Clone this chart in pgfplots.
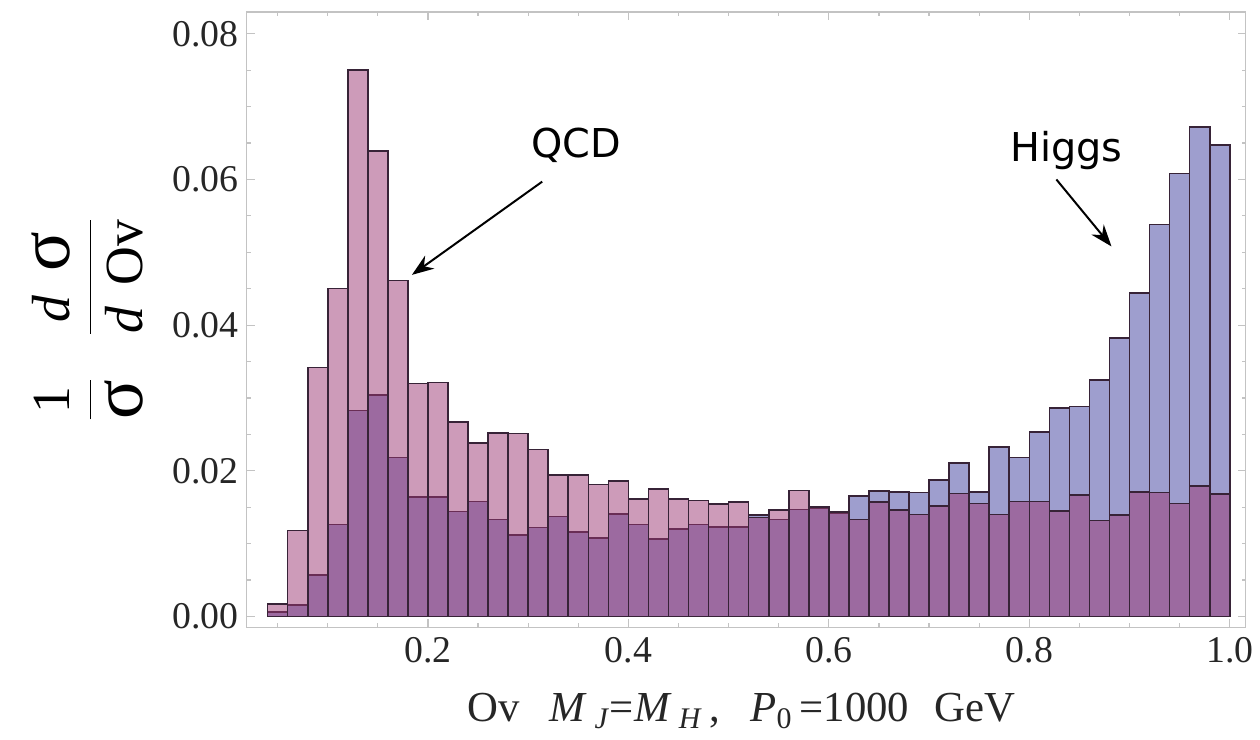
\documentclass[border=0pt]{standalone}
\usepackage{fontspec}
\setmainfont{Liberation Serif}
\newfontfamily\annfont{DejaVu Sans}
\usepackage{pgfplots}
\pgfplotsset{compat=1.18}
\usepackage{pgfplotstable}
\usetikzlibrary{arrows.meta}

\definecolor{higgs}{RGB}{158,158,206}
\definecolor{qcd}{RGB}{155,55,115}
\definecolor{edge}{RGB}{55,35,55}
\definecolor{framec}{RGB}{195,195,195}
\newcommand\bsig{{\fontsize{37}{37}\selectfont σ}}

\pgfplotstableread{
x    qcd     higgs
0.05 0.0017  0.0006
0.07 0.0118  0.0016
0.09 0.0342  0.0057
0.11 0.0450  0.0126
0.13 0.0750  0.0283
0.15 0.0639  0.0304
0.17 0.0461  0.0218
0.19 0.0320  0.0164
0.21 0.0321  0.0164
0.23 0.0267  0.0144
0.25 0.0238  0.0158
0.27 0.0252  0.0133
0.29 0.0251  0.0112
0.31 0.0229  0.0122
0.33 0.0194  0.0137
0.35 0.0194  0.0116
0.37 0.0181  0.0108
0.39 0.0186  0.0141
0.41 0.0161  0.0126
0.43 0.0175  0.0106
0.45 0.0161  0.0120
0.47 0.0159  0.0126
0.49 0.0154  0.0123
0.51 0.0157  0.0123
0.53 0.0136  0.0139
0.55 0.0146  0.0133
0.57 0.0173  0.0147
0.59 0.0150  0.0149
0.61 0.0143  0.0142
0.63 0.0133  0.0165
0.65 0.0157  0.0172
0.67 0.0146  0.0171
0.69 0.0140  0.0170
0.71 0.0152  0.0187
0.73 0.0169  0.0211
0.75 0.0155  0.0171
0.77 0.0140  0.0233
0.79 0.0158  0.0218
0.81 0.0158  0.0253
0.83 0.0145  0.0286
0.85 0.0167  0.0288
0.87 0.0132  0.0325
0.89 0.0139  0.0382
0.91 0.0171  0.0444
0.93 0.0170  0.0538
0.95 0.0155  0.0608
0.97 0.0179  0.0672
0.99 0.0168  0.0647
}\data

\begin{document}
\begin{tikzpicture}
\begin{axis}[
  scale only axis, width=502.5pt, height=309.5pt,
  xmin=0.019, xmax=1.016, ymin=-0.0015, ymax=0.083,
  clip=false,
  axis line style={framec, line width=0.6pt},
  tick style={framec, line width=0.6pt},
  major tick length=4pt, minor tick length=2pt,
  tick align=inside, tick pos=both,
  xticklabel pos=lower, yticklabel pos=left,
  xtick={0.2,0.4,0.6,0.8,1.0},
  minor xtick={0.05,0.1,0.15,0.25,0.3,0.35,0.45,0.5,0.55,0.65,0.7,0.75,0.85,0.9,0.95},
  ytick={0,0.02,0.04,0.06,0.08},
  minor ytick={0.005,0.01,0.015,0.025,0.03,0.035,0.045,0.05,0.055,0.065,0.07,0.075},
  scaled y ticks=false, scaled x ticks=false,
  /pgf/number format/assume math mode=true,
  xticklabel style={/pgf/number format/fixed, /pgf/number format/fixed zerofill, /pgf/number format/precision=1, yshift=-1.5pt},
  yticklabel style={/pgf/number format/fixed, /pgf/number format/fixed zerofill, /pgf/number format/precision=2, xshift=-0.5pt},
  tick label style={font=\fontsize{19}{22}\selectfont, text=black!85},
]
\addplot[ybar, bar width=0.02, bar shift=0pt, fill=higgs, draw=edge, line width=0.8pt]
  table[x=x, y=higgs]{\data};
\addplot[ybar, bar width=0.02, bar shift=0pt, fill=qcd, fill opacity=0.5, draw=edge, draw opacity=1, line width=0.8pt]
  table[x=x, y=qcd]{\data};

\node[font=\annfont\fontsize{20}{24}\selectfont] at (axis cs:0.348,0.0647) {QCD};
\draw[-{Stealth[length=11pt,width=8pt]}, line width=1pt] (axis cs:0.314,0.0597) -- (axis cs:0.184,0.0469);
\node[font=\annfont\fontsize{20}{24}\selectfont] at (axis cs:0.837,0.0640) {Higgs};
\draw[-{Stealth[length=11pt,width=8pt]}, line width=1pt] (axis cs:0.827,0.0600) -- (axis cs:0.882,0.0508);

\node[rotate=90, font=\fontsize{27}{32}\selectfont] at ([xshift=-80pt]rel axis cs:0,0.5)
  {$\displaystyle\frac{\mbox{1}\rule[-3pt]{0pt}{0pt}}{\rule{0pt}{25pt}\mbox{\bsig}}\;\;\;
    \frac{\mbox{\itshape d\hspace{0.45em}\upshape\bsig}\rule[-3pt]{0pt}{0pt}}{\rule{0pt}{25pt}\mbox{\itshape d\hspace{0.4em}\upshape Ov}}$};
\node[font=\fontsize{21.5}{25}\selectfont, text=black!85] at ([yshift=-42pt]rel axis cs:0.4955,0)
  {Ov\hspace{0.7em}\textit{M}\,\textsubscript{\textit{J}}=\textit{M}\,\textsubscript{\textit{H}}\,,\hspace{0.7em}\textit{P}\textsubscript{0}\,=1000\hspace{0.6em}GeV};
\path ([shift={(-124pt,-56.5pt)}]rel axis cs:0,0) rectangle ++(630pt,372pt);
\end{axis}
\end{tikzpicture}
\end{document}
